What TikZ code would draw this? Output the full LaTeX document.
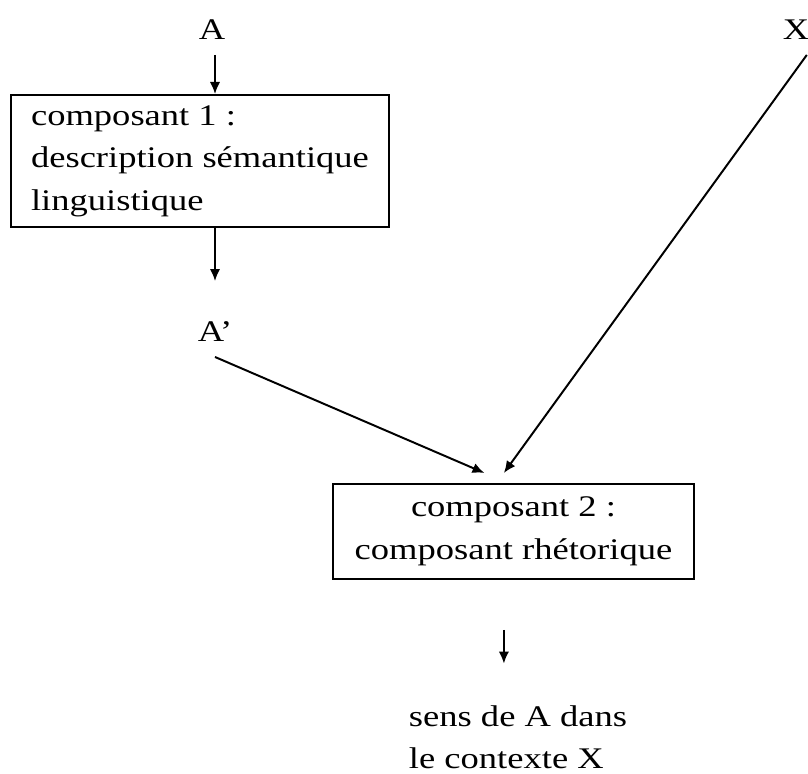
\documentclass[tikz,border=0pt]{standalone}
\usepackage{fontspec}
\setmainfont{Liberation Serif}[FakeStretch=1.22]
\usepackage{tikz}
\usetikzlibrary{arrows.meta}

\begin{document}
\begin{tikzpicture}[font=\fontsize{21.3}{30.2}\selectfont, line width=1.4pt,
                fleche/.style={-{Latex[length=0.3cm,width=0.26cm]}},
                boite/.style={draw, inner ysep=0pt},
                lettre/.style={anchor=base, inner sep=0.35cm}]
                \useasboundingbox (0,0) rectangle (20.2,19.35);
                \node[lettre] (A) at (5.3,18.35) {A};
                \node[lettre] (X) at (19.9,18.35) {X};
                \node[lettre] (Ap) at (5.375,10.8) {A’};
                \node[boite, anchor=north west, minimum width=9.45cm, minimum height=3.3cm, align=left] (box1) at (0.25,17.0) {composant 1 :\\description sémantique\\linguistique};
                \node[boite, anchor=north west, minimum width=9.025cm, minimum height=2.375cm, align=center] (box2) at (8.3,7.275) {composant 2 :\\composant rhétorique};
                \node[anchor=north west, inner sep=0pt, align=left] (sens) at (10.2,1.74) {sens de A dans\\le contexte X};
                \draw[fleche](A.south -| Ap) -- (box1.north -| Ap);
                \draw[fleche, shorten >=0.65cm](box1.south -| Ap) -- (Ap.north);
                \draw[fleche](Ap.south) -- ([xshift=-0.725cm,yshift=0.25cm]box2.north);
                \draw[fleche]([xshift=0.27cm]X.south) -- ([xshift=-0.24cm,yshift=0.25cm]box2.north);
                \draw[fleche, shorten <=1.25cm, shorten >=1.02cm]([xshift=-0.24cm]box2.south) -- ([xshift=-0.24cm]box2.south |- sens.north);
            \end{tikzpicture}
\end{document}
